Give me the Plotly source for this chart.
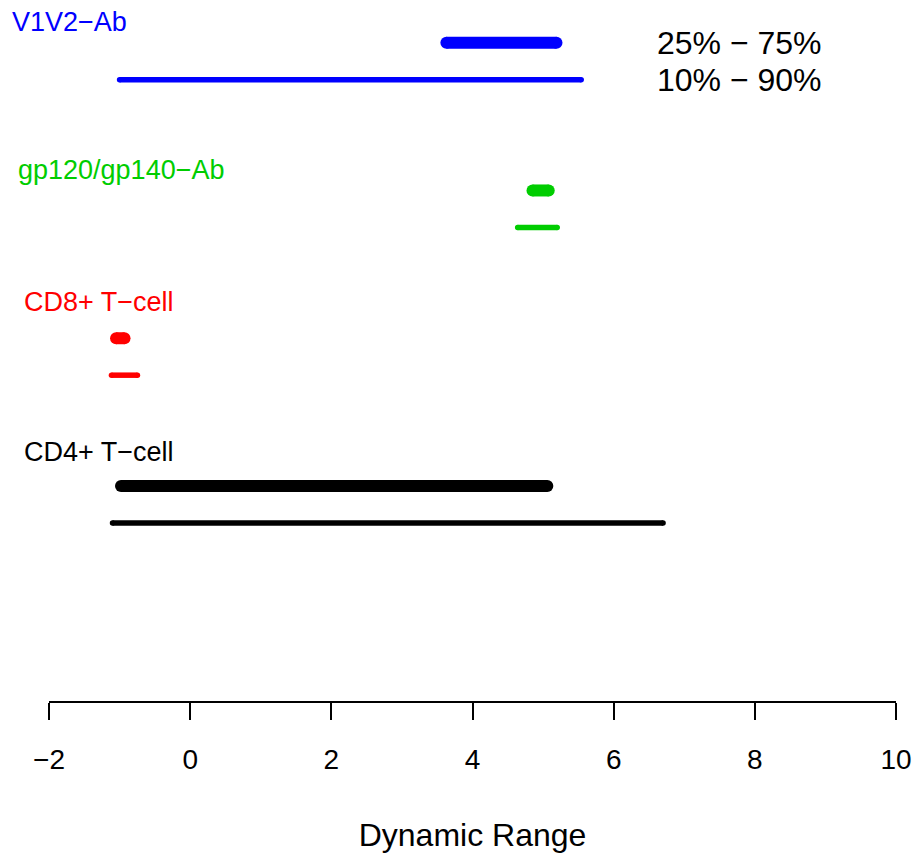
import plotly.graph_objects as go

# ---- data ----
groups = ["V1V2−Ab", "gp120/gp140−Ab", "CD8+ T−cell", "CD4+ T−cell"]
row_pos = [4, 3, 2, 1]
q25 = [3.63, 4.85, -1.05, -0.98]
q75 = [5.19, 5.08, -0.93, 5.06]
q10 = [-1.00, 4.64, -1.115, -1.10]
q90 = [5.54, 5.20, -0.747, 6.70]
legend_labels = ["25% − 75%", "10% − 90%"]
x_ticks = [-2, 0, 2, 4, 6, 8, 10]

# ---- style ----
colors = ["#0000FF", "#00CD00", "#FF0000", "#000000"]
thick_w = 12
thin_w = 5.5
thin_offset = 0.25
label_offset = [0.14, 0.14, 0.245, 0.23]
label_xpx = [10, 16, 22, 22]
FONT = "Liberation Sans, Arial, Helvetica, sans-serif"

W, H = 923, 855
ML, MR, MT, MB = 49, 27, 0, 154
plot_w = W - ML - MR

fig = go.Figure()
for g, y, a, b, c, d, col in zip(groups, row_pos, q25, q75, q10, q90, colors):
    fig.add_trace(go.Scatter(x=[a, b], y=[y, y], mode="lines+markers",
                             line=dict(color=col, width=thick_w),
                             marker=dict(color=col, size=thick_w, line=dict(width=0)),
                             hoverinfo="skip", showlegend=False))
    fig.add_trace(go.Scatter(x=[c, d], y=[y - thin_offset, y - thin_offset], mode="lines+markers",
                             line=dict(color=col, width=thin_w),
                             marker=dict(color=col, size=thin_w, line=dict(width=0)),
                             hoverinfo="skip", showlegend=False))

annotations = []
for g, y, off, xp, col in zip(groups, row_pos, label_offset, label_xpx, colors):
    annotations.append(dict(text=g, xref="paper", yref="y", x=(xp - ML) / plot_w, y=y + off,
                            xanchor="left", yanchor="middle", showarrow=False,
                            font=dict(family=FONT, size=27, color=col)))
for lab, y in zip(legend_labels, [row_pos[0], row_pos[0] - thin_offset]):
    annotations.append(dict(text=lab, xref="paper", yref="y", x=(655 - ML) / plot_w, y=y,
                            xanchor="left", yanchor="middle", showarrow=False,
                            font=dict(family=FONT, size=32, color="black")))

fig.update_layout(
    width=W, height=H,
    margin=dict(l=ML, r=MR, t=MT, b=MB, pad=0),
    paper_bgcolor="white", plot_bgcolor="white",
    annotations=annotations,
    xaxis=dict(range=[-2, 10], tickvals=x_ticks, ticktext=[("−" + str(-v)) if v < 0 else str(v) for v in x_ticks],
               showgrid=False, zeroline=False, showline=True, linecolor="black", linewidth=2,
               ticks="outside", ticklen=17, tickwidth=1.5, tickcolor="black",
               tickfont=dict(family=FONT, size=28, color="black"), ticklabelstandoff=15,
               title=dict(text="Dynamic Range", font=dict(family=FONT, size=32, color="black"), standoff=50),
               fixedrange=True),
    yaxis=dict(range=[-0.455, 4.289], visible=False, fixedrange=True),
    showlegend=False,
)

fig.write_html("out.html", config={"displayModeBar": False},
               post_script="document.body.style.margin='0';document.body.style.overflow='hidden';")
